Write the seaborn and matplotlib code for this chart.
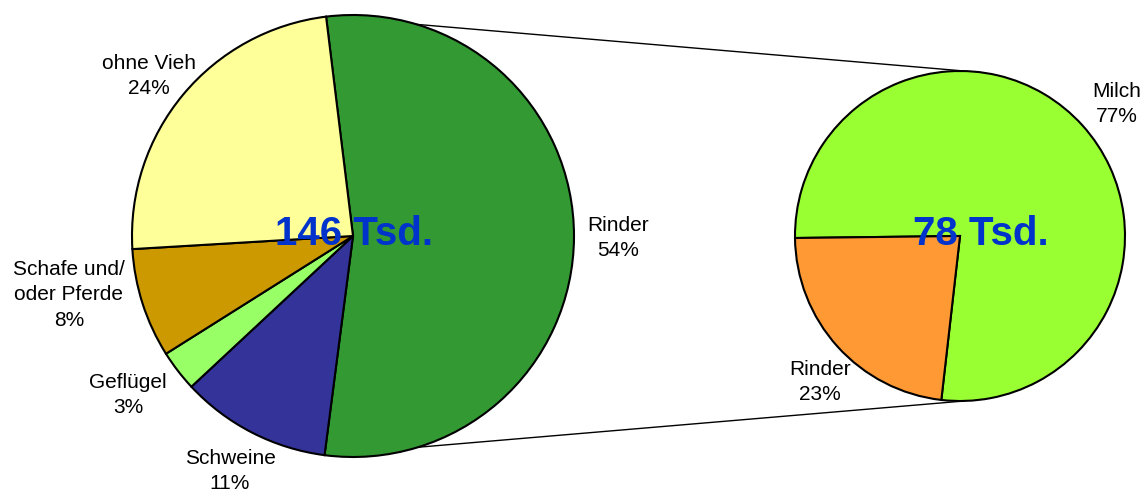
import matplotlib
matplotlib.use("Agg")
import matplotlib.pyplot as plt
import numpy as np
import seaborn as sns

# Betriebe nach Art der Viehhaltung (Anteile in %)
betriebe_kategorien = ["Rinder", "Schweine", "Geflügel", "Schafe und/\noder Pferde", "ohne Vieh"]
betriebe_anteile = [54, 11, 3, 8, 24]
betriebe_gesamt = "146 Tsd."

# Aufteilung der Rinderhalter (Anteile in %)
rinder_kategorien = ["Milch", "Rinder"]
rinder_anteile = [77, 23]
rinder_gesamt = "78 Tsd."

betriebe_farben = ["#339933", "#333399", "#99ff66", "#cc9900", "#ffff99"]
rinder_farben = ["#99ff33", "#ff9933"]

sns.set_theme(style="white")
plt.rcParams["font.family"] = ["Liberation Sans", "DejaVu Sans"]

W, H = 1145, 494
fig = plt.figure(figsize=(W / 100, H / 100), dpi=100)
ax = fig.add_axes([0, 0, 1, 1])


def px(x, y):
    """Pixel position (origin top-left) to axes data coordinates."""
    return (x, H - y)


left_c, left_r = px(353, 236), 221
right_c, right_r = px(960, 236), 165
edge = dict(edgecolor="black", linewidth=1.5)

wl, _ = ax.pie(betriebe_anteile, colors=betriebe_farben, startangle=97.0,
               counterclock=False, center=left_c, radius=left_r,
               wedgeprops=edge, frame=True)
wr, _ = ax.pie(rinder_anteile, colors=rinder_farben, startangle=180.7,
               counterclock=False, center=right_c, radius=right_r,
               wedgeprops=edge, frame=True)

# Verbindungslinien vom Rinder-Segment zum rechten Kreis
rw = wl[0]
for ang, sign in ((rw.theta2, 1), (rw.theta1, -1)):
    a = np.deg2rad(ang)
    x0 = left_c[0] + left_r * np.cos(a)
    y0 = left_c[1] + left_r * np.sin(a)
    x1, y1 = right_c[0] + 4, right_c[1] + sign * right_r
    ax.plot([x0, x1], [y0, y1], color="black", lw=1, zorder=0)

# Beschriftungen
links_pos = [(618, 238), (230, 471), (128, 395), (69, 295), (149, 76)]
rechts_pos = [(1117, 104), (820, 382)]
for name, val, pos in zip(betriebe_kategorien, betriebe_anteile, links_pos):
    ax.text(*px(*pos), f"{name}\n{val}%", ha="center", va="center",
            fontsize=15, color="black", linespacing=1.45)
for name, val, pos in zip(rinder_kategorien, rinder_anteile, rechts_pos):
    ax.text(*px(*pos), f"{name}\n{val}%", ha="center", va="center",
            fontsize=15, color="black", linespacing=1.45)

ax.text(*px(354, 234), betriebe_gesamt, ha="center", va="center",
        fontsize=29, fontweight="bold", color="#0033cc", zorder=10)
ax.text(*px(981, 234), rinder_gesamt, ha="center", va="center",
        fontsize=29, fontweight="bold", color="#0033cc", zorder=10)

ax.set_xlim(0, W)
ax.set_ylim(0, H)
ax.set_aspect("equal")
ax.axis("off")

fig.savefig("out.png", dpi=100, facecolor="white")
